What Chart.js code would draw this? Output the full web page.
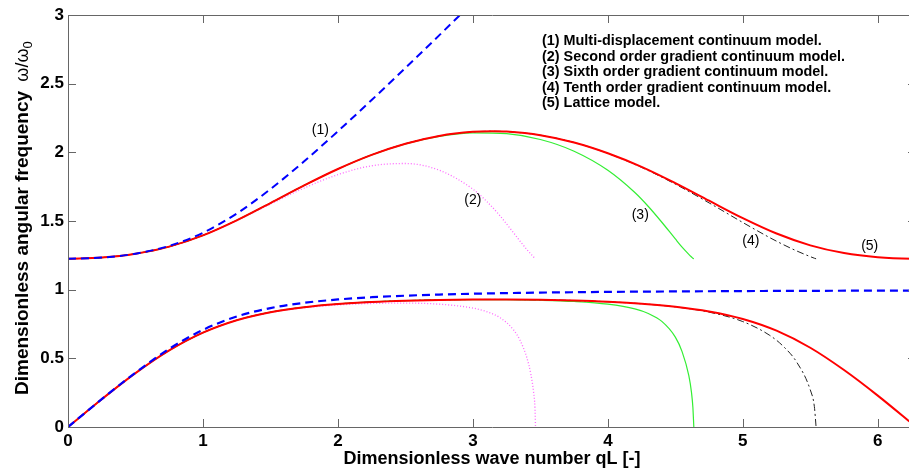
<!DOCTYPE html>
<html>
<head>
<meta charset="utf-8">
<script src="https://cdn.jsdelivr.net/npm/chart.js@4.4.1/dist/chart.umd.min.js"></script>
<style>
  html, body { margin: 0; padding: 0; background: #fff; overflow: hidden; }
  canvas { display: block; }
</style>
</head>
<body>
<canvas id="myChart" width="918" height="476"></canvas>
<script>

// dispersion curves (x = qL, y = omega/omega0)
const qLattice = [0, 0.25, 0.5, 0.75, 1, 1.25, 1.5, 1.75, 2, 2.25, 2.5, 2.75, 3, 3.1416, 3.25, 3.5, 3.75, 4, 4.25, 4.5, 4.75, 5, 5.25, 5.5, 5.75, 6, 6.25, 6.2832];
const latticeUpper = [1.2247, 1.2334, 1.2613, 1.3136, 1.3954, 1.5049, 1.6309, 1.7593, 1.8788, 1.9817, 2.0630, 2.1194, 2.1490, 2.1535, 2.1509, 2.1249, 2.0719, 1.9938, 1.8945, 1.7759, 1.6478, 1.5210, 1.4087, 1.3227, 1.2664, 1.2359, 1.2249, 1.2247];
const latticeLower = [0, 0.2022, 0.3923, 0.5577, 0.6871, 0.7776, 0.8359, 0.8726, 0.8958, 0.9106, 0.9200, 0.9256, 0.9283, 0.9287, 0.9285, 0.9262, 0.9210, 0.9121, 0.8983, 0.8763, 0.8417, 0.7870, 0.7015, 0.5771, 0.4147, 0.2284, 0.0271, 0];

const qMultiUpper = [0, 0.25, 0.5, 0.75, 1, 1.25, 1.5, 1.75, 2, 2.25, 2.5, 2.75, 3, 3.25];
const multiUpper = [1.2247, 1.2335, 1.2622, 1.3187, 1.4142, 1.5543, 1.7321, 1.9351, 2.1535, 2.3811, 2.6145, 2.8518, 3.0917, 3.3334];
const qMultiLower = [0, 0.25, 0.5, 0.75, 1, 1.25, 1.5, 1.75, 2, 2.25, 2.5, 2.75, 3, 3.25, 3.5, 3.75, 4, 4.5, 5, 5.5, 6, 6.2832];
const multiLower = [0, 0.2027, 0.3961, 0.5687, 0.7071, 0.8043, 0.8660, 0.9043, 0.9287, 0.9450, 0.9562, 0.9643, 0.9704, 0.9750, 0.9786, 0.9815, 0.9838, 0.9873, 0.9898, 0.9916, 0.9929, 0.9935];

const qSecond = [0, 0.25, 0.5, 0.75, 1, 1.25, 1.5, 1.75, 2, 2.25, 2.5, 2.75, 3, 3.1, 3.2, 3.3, 3.35, 3.4, 3.43, 3.45, 3.46, 3.4641];
const secondUpper = [1.2247, 1.2334, 1.2613, 1.3136, 1.3948, 1.5023, 1.6230, 1.7400, 1.8377, 1.9020, 1.9187, 1.8700, 1.7321, 1.6453, 1.5387, 1.4159, 1.3527, 1.2923, 1.2590, 1.2384, 1.2286, 1.2247];
const secondLower = [0, 0.2022, 0.3923, 0.5574, 0.6864, 0.7760, 0.8331, 0.8680, 0.8886, 0.8994, 0.9020, 0.8943, 0.8660, 0.8409, 0.7965, 0.7088, 0.6304, 0.5038, 0.3813, 0.2511, 0.1370, 0];

const qSixth = [0, 0.25, 0.5, 0.75, 1, 1.25, 1.5, 1.75, 2, 2.25, 2.5, 2.75, 3, 3.25, 3.5, 3.75, 4, 4.2, 4.3, 4.4, 4.5, 4.55, 4.6, 4.62, 4.63, 4.637];
const sixthUpper = [1.2247, 1.2334, 1.2613, 1.3136, 1.3954, 1.5049, 1.6309, 1.7593, 1.8788, 1.9816, 2.0618, 2.1165, 2.1422, 2.1356, 2.0935, 2.0082, 1.8693, 1.7073, 1.6057, 1.4909, 1.3693, 1.3099, 1.2575, 1.2382, 1.2290, 1.2247];
const sixthLower = [0, 0.2022, 0.3923, 0.5577, 0.6871, 0.7776, 0.8359, 0.8726, 0.8958, 0.9106, 0.9199, 0.9254, 0.9277, 0.9275, 0.9231, 0.9139, 0.8942, 0.8596, 0.8266, 0.7688, 0.6546, 0.5491, 0.3739, 0.2492, 0.1432, 0];

const qTenth = [0, 0.25, 0.5, 0.75, 1, 1.25, 1.5, 1.75, 2, 2.25, 2.5, 2.75, 3, 3.1416, 3.25, 3.5, 3.75, 4, 4.25, 4.5, 4.75, 5, 5.2, 5.3, 5.4, 5.5, 5.53, 5.543];
const tenthUpper = [1.2247, 1.2334, 1.2613, 1.3136, 1.3954, 1.5049, 1.6309, 1.7593, 1.8788, 1.9817, 2.0630, 2.1194, 2.1490, 2.1535, 2.1509, 2.1249, 2.0719, 1.9925, 1.8903, 1.7684, 1.6319, 1.4890, 1.3787, 1.3280, 1.2817, 1.2406, 1.2290, 1.2247];
const tenthLower = [0, 0.2022, 0.3923, 0.5577, 0.6871, 0.7776, 0.8359, 0.8726, 0.8958, 0.9106, 0.9200, 0.9256, 0.9283, 0.9287, 0.9285, 0.9262, 0.9210, 0.9119, 0.8976, 0.8746, 0.8363, 0.7676, 0.6670, 0.5874, 0.4713, 0.2695, 0.1495, 0];

const seriesNames = [
  '(1) Multi-displacement continuum model.',
  '(2) Second order gradient continuum model.',
  '(3) Sixth order gradient continuum model.',
  '(4) Tenth order gradient continuum model.',
  '(5) Lattice model.'
];
// curve tags and where they sit (data units)
const tagText = ['(1)', '(2)', '(3)', '(4)', '(5)'];
const tagX = [1.87, 3.0, 4.24, 5.06, 5.94];
const tagY = [2.16, 1.65, 1.54, 1.355, 1.32];

const xTicks = [0, 1, 2, 3, 4, 5, 6];
const yTicks = [0, 0.5, 1, 1.5, 2, 2.5, 3];

const FONT = '"Liberation Sans", Arial, sans-serif';

function pts(xs, ys) {
  return xs.map((x, i) => ({ x: x, y: ys[i] }));
}

function line(label, xs, ys, color, width, dash, order) {
  return {
    label: label,
    data: pts(xs, ys),
    borderColor: color,
    borderWidth: width,
    borderDash: dash,
    pointRadius: 0,
    fill: false,
    cubicInterpolationMode: 'monotone',
    order: order
  };
}

const data = {
  datasets: [
    line(seriesNames[0], qMultiUpper, multiUpper, '#0000ff', 2, [8, 5], 0),
    line(seriesNames[0], qMultiLower, multiLower, '#0000ff', 2.2, [8, 5], 0),
    line(seriesNames[4], qLattice, latticeUpper, '#ff0000', 2, [], 1),
    line(seriesNames[4], qLattice, latticeLower, '#ff0000', 2, [], 1),
    line(seriesNames[3], qTenth, tenthUpper, '#222222', 1, [7, 3, 2, 3], 2),
    line(seriesNames[3], qTenth, tenthLower, '#222222', 1, [7, 3, 2, 3], 2),
    line(seriesNames[2], qSixth, sixthUpper, '#33ee33', 1.2, [], 3),
    line(seriesNames[2], qSixth, sixthLower, '#33ee33', 1.2, [], 3),
    line(seriesNames[1], qSecond, secondUpper, '#ff66ff', 1.3, [1, 2], 4),
    line(seriesNames[1], qSecond, secondLower, '#ff66ff', 1.3, [1, 2], 4)
  ]
};

// matlab style box with inward ticks, legend text, curve tags, y title
const decorations = {
  id: 'decorations',
  afterDraw(chart) {
    const ctx = chart.ctx;
    const a = chart.chartArea;
    const xs = chart.scales.x, ys = chart.scales.y;
    const tl = 8;
    ctx.save();
    ctx.strokeStyle = '#666';
    ctx.lineWidth = 1;
    ctx.beginPath();
    ctx.rect(a.left + 0.5, a.top + 0.5, a.right - a.left, a.bottom - a.top);
    xTicks.forEach(v => {
      const px = Math.round(xs.getPixelForValue(v)) + 0.5;
      ctx.moveTo(px, a.bottom); ctx.lineTo(px, a.bottom - tl);
      ctx.moveTo(px, a.top); ctx.lineTo(px, a.top + tl);
    });
    yTicks.forEach(v => {
      const py = Math.round(ys.getPixelForValue(v)) + 0.5;
      ctx.moveTo(a.left, py); ctx.lineTo(a.left + tl, py);
      ctx.moveTo(a.right, py); ctx.lineTo(a.right - tl, py);
    });
    ctx.stroke();

    ctx.fillStyle = '#000';
    ctx.textBaseline = 'middle';
    ctx.textAlign = 'left';
    ctx.font = 'bold 14.4px ' + FONT;
    seriesNames.forEach((s, i) => ctx.fillText(s, 542, 41.5 + i * 15.5));

    ctx.font = '14px ' + FONT;
    ctx.textAlign = 'center';
    tagText.forEach((t, i) => {
      ctx.fillText(t, xs.getPixelForValue(tagX[i]), ys.getPixelForValue(tagY[i]));
    });

    // y axis title
    ctx.translate(23, 395);
    ctx.rotate(-Math.PI / 2);
    ctx.textAlign = 'left';
    ctx.font = 'bold 19px ' + FONT;
    const main = 'Dimensionless angular frequency ';
    ctx.fillText(main, 0, 0);
    let w = ctx.measureText(main).width + 4;
    ctx.font = '18px ' + FONT;
    ctx.fillText('\u03c9/\u03c9', w, 0);
    w += ctx.measureText('\u03c9/\u03c9').width;
    ctx.font = '13px ' + FONT;
    ctx.fillText('0', w, 5);
    ctx.restore();
  }
};

const tickFont = { family: FONT, size: 17, weight: 'bold' };

const config = {
  type: 'line',
  data,
  options: {
    responsive: false,
    animation: false,
    layout: { padding: { top: 15, right: 2, left: 0, bottom: 0 } },
    scales: {
      x: {
        type: 'linear',
        min: 0,
        max: 6.2832,
        afterFit: s => { s.height = 49; },
        afterBuildTicks: s => { s.ticks = xTicks.map(v => ({ value: v })); },
        grid: { display: false, drawTicks: false },
        border: { display: false },
        ticks: { color: '#000', padding: 4, font: tickFont, callback: v => String(v) },
        title: {
          display: true,
          text: 'Dimensionless wave number qL [-]',
          color: '#000',
          padding: { top: 0, bottom: 6 },
          font: { family: FONT, size: 18, weight: 'bold' }
        }
      },
      y: {
        min: 0,
        max: 3,
        afterFit: s => { s.width = 68; },
        afterBuildTicks: s => { s.ticks = yTicks.map(v => ({ value: v })); },
        grid: { display: false, drawTicks: false },
        border: { display: false },
        ticks: { color: '#000', padding: 4, font: tickFont, callback: v => String(v) }
      }
    },
    plugins: {
      legend: { display: false },
      tooltip: { enabled: false }
    }
  },
  plugins: [decorations]
};

const myChart = new Chart(document.getElementById('myChart'), config);
</script>
</body>
</html>
